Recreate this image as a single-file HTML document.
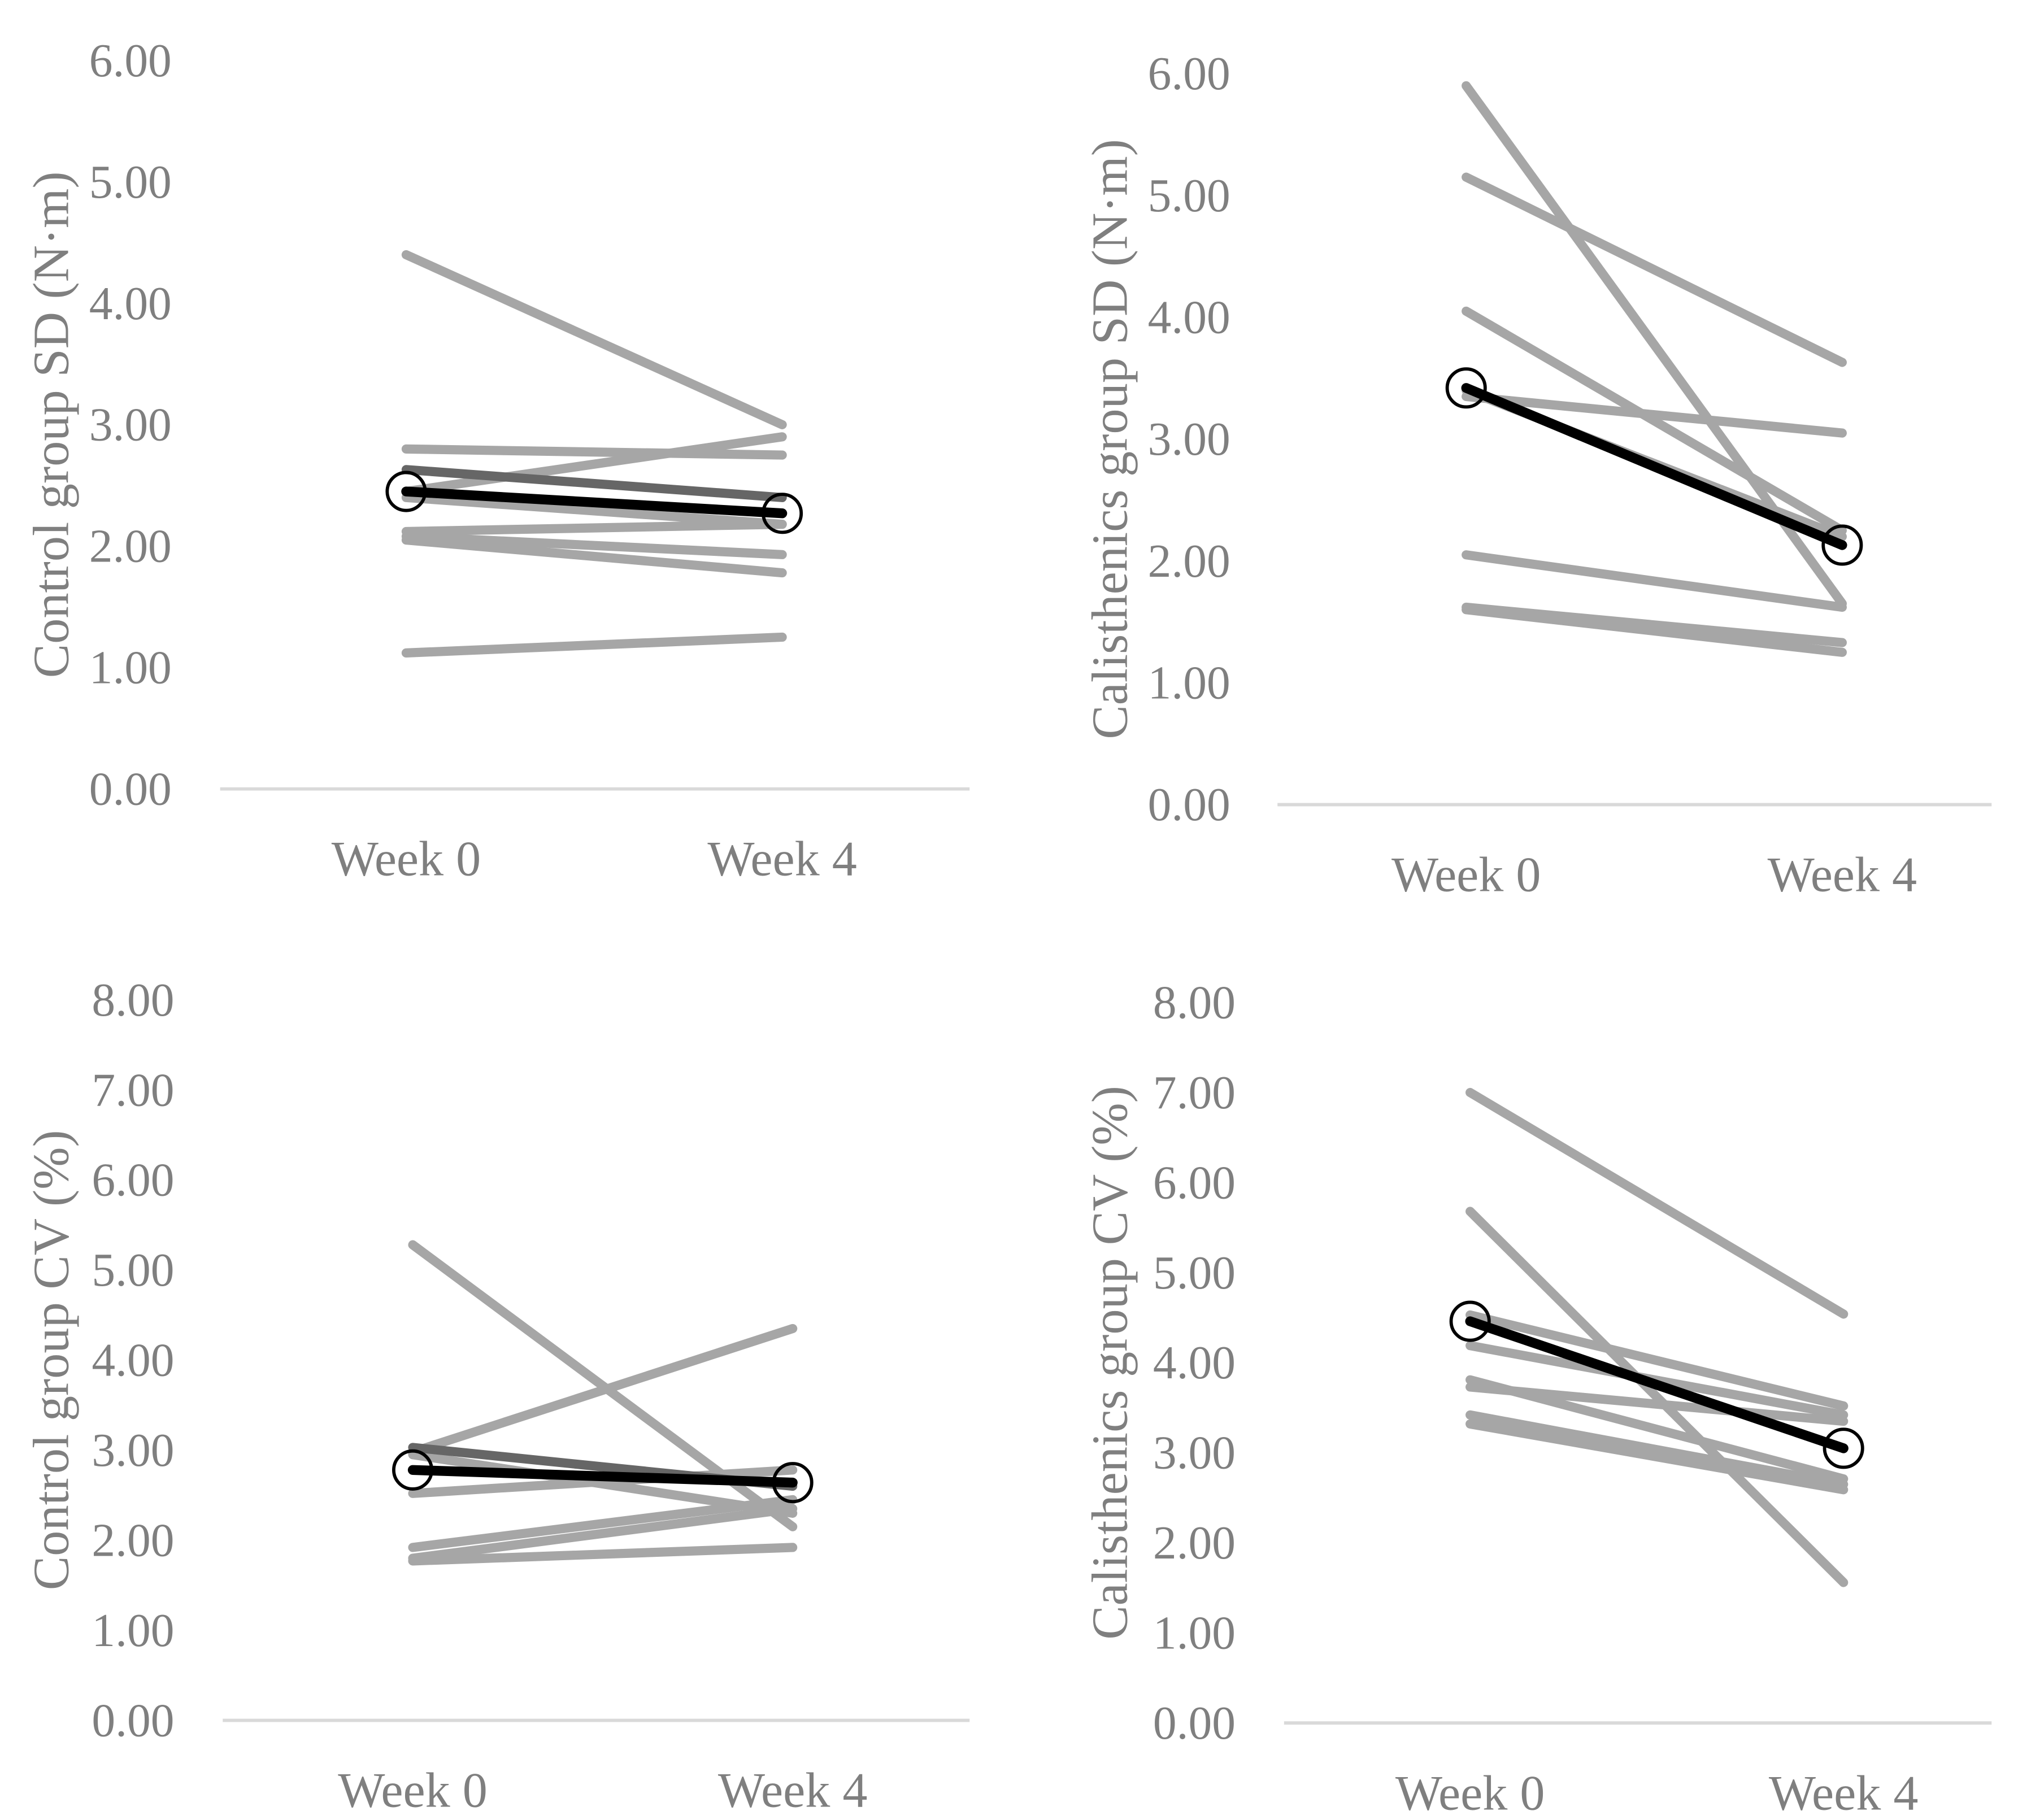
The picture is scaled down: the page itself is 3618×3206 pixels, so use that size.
<!DOCTYPE html>
<html><head><meta charset="utf-8"><style>
html,body{margin:0;padding:0;background:#fff}
svg{display:block}
text{font-family:"Liberation Serif",serif;fill:#7f7f7f}
</style></head><body>
<svg id="fig" width="3618" height="3206" viewBox="0 0 1560 1382" xmlns="http://www.w3.org/2000/svg"></svg>
<script>
const categories = ["Week 0", "Week 4"];
// Panel A: Control group SD
const ctrlSdSeries = [[4.40,3.00],[2.80,2.75],[2.45,2.90],[2.40,2.18],[2.12,2.18],[2.08,1.93],[2.05,1.78],[1.12,1.25]];
const ctrlSdDark = [2.63,2.40];
const ctrlSdMean = [2.45,2.27];
const ctrlSdTicks = ["0.00","1.00","2.00","3.00","4.00","5.00","6.00"];
// Panel B: Calisthenics group SD
const caliSdSeries = [[5.90,1.65],[5.15,3.63],[4.05,2.25],[3.35,3.05],[3.40,2.20],[2.05,1.62],[1.62,1.33],[1.60,1.25]];
const caliSdMean = [3.42,2.13];
const caliSdTicks = ["0.00","1.00","2.00","3.00","4.00","5.00","6.00"];
// Panel C: Control group CV
const ctrlCvSeries = [[5.28,2.15],[2.98,4.35],[2.52,2.78],[2.95,2.30],[1.92,2.45],[1.80,2.35],[1.77,1.92]];
const ctrlCvDark = [3.03,2.60];
const ctrlCvMean = [2.78,2.64];
const ctrlCvTicks = ["0.00","1.00","2.00","3.00","4.00","5.00","6.00","7.00","8.00"];
// Panel D: Calisthenics group CV
const caliCvSeries = [[7.00,4.54],[5.68,1.56],[4.53,3.52],[4.19,3.42],[3.81,2.71],[3.73,3.35],[3.42,2.65],[3.32,2.59]];
const caliCvMean = [4.46,3.05];
const caliCvTicks = ["0.00","1.00","2.00","3.00","4.00","5.00","6.00","7.00","8.00"];

const NS = "http://www.w3.org/2000/svg";
const svg = document.getElementById("fig");
function mk(tag, attrs, parent){
  const e = document.createElementNS(NS, tag);
  for (const k in attrs) e.setAttribute(k, attrs[k]);
  parent.appendChild(e);
  return e;
}
function panel(cfg){
  const g = mk("g", {}, svg);
  
  
  const maxV = cfg.ticks.length - 1;
  const y = v => cfg.y0 - (v / maxV) * (cfg.y0 - cfg.yTop);
  const x = i => cfg.xs[i];
  cfg.ticks.forEach((t, i) => {
    const tx = mk("text", {x: cfg.labelX, y: y(parseFloat(t)) + 12, "font-size": 36, "text-anchor": "end"}, g);
    tx.textContent = t;
    
    
  });
  const ax = mk("line", {x1: cfg.axX1, x2: cfg.axX2, y1: cfg.y0, y2: cfg.y0, stroke: "#d9d9d9", "stroke-width": 2.5}, g);
  
  
  categories.forEach((c, i) => {
    const tx = mk("text", {x: x(i), y: cfg.y0 + 66, "font-size": 38, "text-anchor": "middle"}, g);
    tx.textContent = c;
    
    
  });
  const ty = (cfg.y0 + cfg.yTop) / 2;
  const tt = mk("text", {x: cfg.titleX, y: ty, "font-size": 39, "text-anchor": "middle", transform: `rotate(-90 ${cfg.titleX} ${ty})`}, g);
  tt.textContent = cfg.title;
  
  
  cfg.series.forEach(s => {
    const l = mk("line", {x1: x(0), y1: y(s[0]), x2: x(1), y2: y(s[1]), stroke: "#a6a6a6", "stroke-width": 7, "stroke-linecap": "round"}, g);
    
    
  });
  if (cfg.dark) {
    const l = mk("line", {x1: x(0), y1: y(cfg.dark[0]), x2: x(1), y2: y(cfg.dark[1]), stroke: "#666666", "stroke-width": 7, "stroke-linecap": "round"}, g);
    
    
  }
  const m = mk("line", {x1: x(0), y1: y(cfg.mean[0]), x2: x(1), y2: y(cfg.mean[1]), stroke: "#000", "stroke-width": 7.5, "stroke-linecap": "round"}, g);
  
  
  cfg.mean.forEach((v, i) => {
    const c = mk("circle", {cx: x(i), cy: y(v), r: 14.5, fill: "none", stroke: "#000", "stroke-width": 2.5}, g);
    
    
  });
}
panel({name:"control-sd-panel", ticks:ctrlSdTicks, series:ctrlSdSeries, dark:ctrlSdDark, mean:ctrlSdMean,
  y0:602, yTop:46, xs:[310,597], axX1:168, axX2:740, labelX:131, titleX:52, title:"Control group SD (N·m)"});
panel({name:"calisthenics-sd-panel", ticks:caliSdTicks, series:caliSdSeries, mean:caliSdMean,
  y0:614, yTop:56, xs:[1119,1406], axX1:975, axX2:1520, labelX:939, titleX:860, title:"Calisthenics group SD (N·m)"});
panel({name:"control-cv-panel", ticks:ctrlCvTicks, series:ctrlCvSeries, dark:ctrlCvDark, mean:ctrlCvMean,
  y0:1313, yTop:763, xs:[315,605], axX1:170, axX2:740, labelX:133, titleX:52, title:"Control group CV (%)"});
panel({name:"calisthenics-cv-panel", ticks:caliCvTicks, series:caliCvSeries, mean:caliCvMean,
  y0:1315, yTop:765, xs:[1122,1407], axX1:980, axX2:1520, labelX:943, titleX:860, title:"Calisthenics group CV (%)"});
</script>
</body></html>
